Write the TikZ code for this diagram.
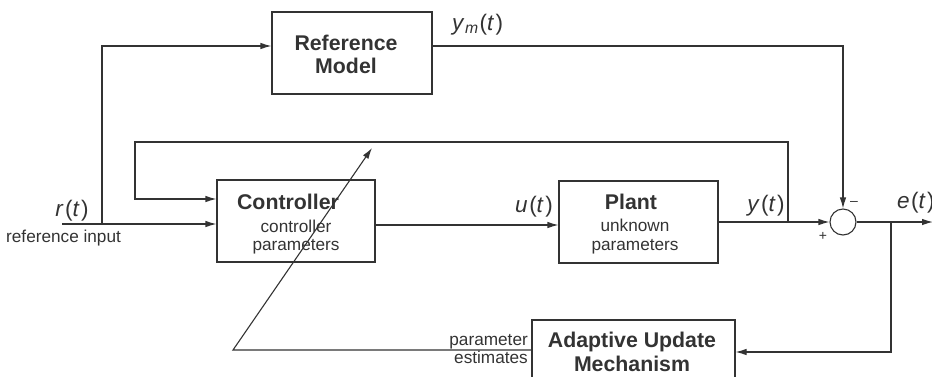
\documentclass[tikz,border=0pt]{standalone}
\usepackage{fontspec}
\setmainfont{Liberation Sans}
\usetikzlibrary{arrows.meta}
\definecolor{ink}{HTML}{333333}
\newcommand{\sgl}[1]{\textit{#1}\kern1.5pt(\textit{t}\kern1.5pt)}
\tikzset{
  blk/.style={draw=ink, line width=1.1pt, rectangle, inner sep=0pt},
  wire/.style={draw=ink, line width=1.1pt},
  arr/.style={wire, -{Latex[length=11pt,width=6.5pt]}},
  bold/.style={text=ink, font=\fontsize{21.3}{24}\selectfont\bfseries, anchor=base, inner sep=0pt},
  small/.style={text=ink, font=\fontsize{17.2}{19}\selectfont, anchor=base, inner sep=0pt},
  sig/.style={text=ink, font=\fontsize{22.5}{24}\selectfont, anchor=base, inner sep=0pt},
  sgn/.style={text=ink, font=\fontsize{14}{14}\selectfont, inner sep=0pt},
}
\begin{document}
\begin{tikzpicture}[x=1pt,y=-1pt]
\useasboundingbox (0,0) rectangle (932,376);
\clip (0,0) rectangle (932,376);
% blocks
\node[blk, minimum width=160pt, minimum height=82pt] (ref) at (352,53) {};
\node[blk, minimum width=158pt, minimum height=82pt] (ctrl) at (296,221) {};
\node[blk, minimum width=159pt, minimum height=82pt] (plant) at (638.5,222) {};
\node[blk, minimum width=203pt, minimum height=60pt] (adapt) at (633.5,350) {};
\node[draw=ink, line width=1.1pt, circle, minimum size=26pt, inner sep=0pt] (sum) at (843,222) {};
% block texts
\node[bold] (reft1) at (346,50) {Reference};
\node[bold] (reft2) at (346,73) {Model};
\node[bold] (ctrlt1) at (288,209) {Controller};
\node[small] (ctrlt2) at (296,232) {controller};
\node[small] (ctrlt3) at (296,250) {parameters};
\node[bold] (plantt1) at (631,209) {Plant};
\node[small] (plantt2) at (635,231) {unknown};
\node[small] (plantt3) at (635,250) {parameters};
\node[bold] (adaptt1) at (632,347) {Adaptive Update};
\node[bold] (adaptt2) at (632,371) {Mechanism};
% coordinates
\coordinate (rin) at (62,224);
\coordinate (rb) at (102,224);
\coordinate (fbr) at (788,222);
\coordinate (fbl) at (135,142);
\coordinate (eout) at (933,222);
\coordinate (eb) at (891,222);
\coordinate (dl) at (233,350);
\coordinate (dtip) at (372,148);
% connectors
\draw[arr] (rin) -- (ctrl.west |- rin);
\draw[arr] (rb) |- (ref.west |- 0,46);
\draw[arr] (fbr) |- (fbl) |- (ctrl.west |- 0,199);
\draw[arr] (ctrl.east |- 0,225) -- (plant.west |- 0,225);
\draw[arr] (plant.east |- sum) -- (sum.west);
\draw[arr] (ref.east |- 0,46) -| (sum.north);
\draw[arr] (sum.east) -- (eout);
\draw[arr] (eb) |- (adapt.east |- 0,352);
\draw[arr] (adapt.west |- dl) -- (dl) -- (dtip);
% signal labels
\node[sig] (lr) at (72,216) {\sgl{r}};
\node[small, anchor=base west] (lri) at (6,242) {reference input};
\node[sig] (lu) at (534,212) {\sgl{u}};
\node[sig] (ly) at (766,211) {\sgl{y}};
\node[sig, anchor=base west] (le) at (897,208) {\sgl{e}};
\node[sig, anchor=base west] (lym) at (452,30) {\textit{y}\kern0.5pt\textsubscript{\textit{m}}\kern1pt(\textit{t}\kern1.5pt)};
\node[small, anchor=base east] (lp1) at (528,345) {parameter};
\node[small, anchor=base east] (lp2) at (528,363) {estimates};
\node[sgn] (plus) at (823,236) {+};
\node[sgn] (minus) at (854,203) {\textendash};
\end{tikzpicture}
\end{document}
